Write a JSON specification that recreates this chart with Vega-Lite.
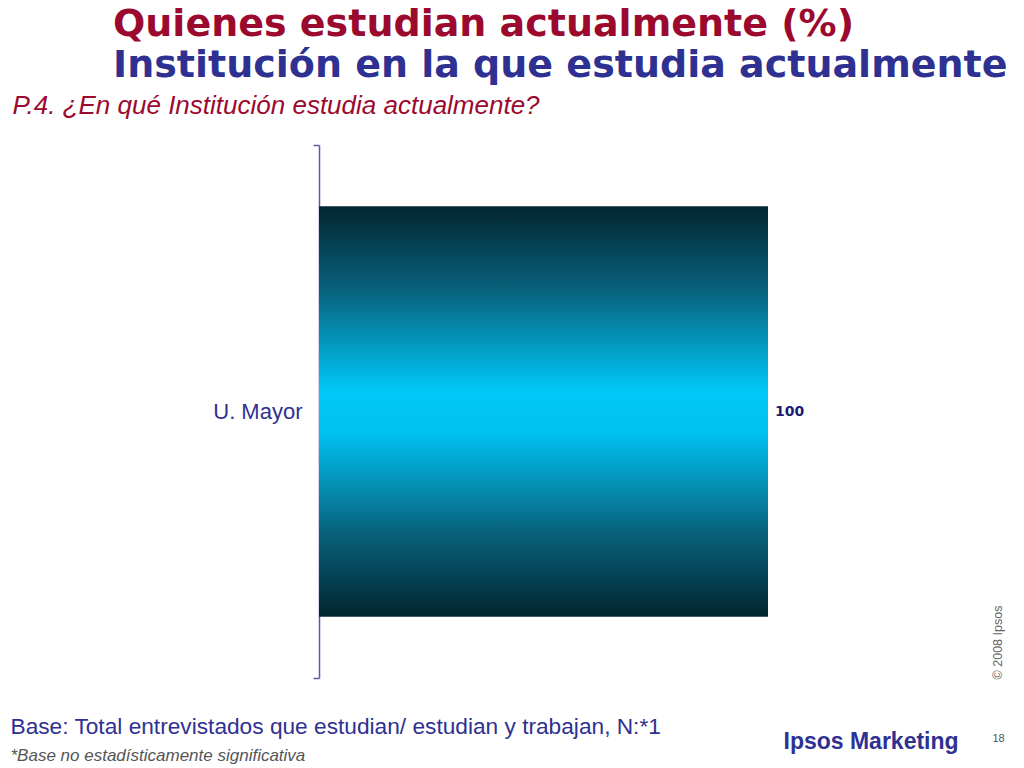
{
  "$schema": "https://vega.github.io/schema/vega-lite/v6.json",
  "autosize": {"type": "none"},
  "width": 449,
  "height": 533,
  "padding": {"left": 319, "top": 145, "right": 256, "bottom": 90},
  "background": "white",
  "config": {"view": {"stroke": null}, "font": "Liberation Sans"},
  "title": {
    "text": "Quienes estudian actualmente (%)",
    "subtitle": "Institución en la que estudia actualmente",
    "anchor": "start",
    "frame": "group",
    "dx": -206,
    "offset": 7,
    "font": "DejaVu Sans",
    "fontSize": 38,
    "fontWeight": "bold",
    "color": "#9B0A2E",
    "subtitleFont": "DejaVu Sans",
    "subtitleFontSize": 38,
    "subtitleFontWeight": "bold",
    "subtitleColor": "#2E3192",
    "subtitlePadding": 3
  },
  "data": {"values": [{"institucion": "U. Mayor", "pct": 100}]},
  "layer": [
    {
      "mark": {
        "type": "bar",
        "height": {"band": 0.77},
        "fill": {
          "gradient": "linear",
          "x1": 0, "y1": 0, "x2": 0, "y2": 1,
          "stops": [
            {"offset": 0, "color": "#022630"},
            {"offset": 0.2, "color": "#08607a"},
            {"offset": 0.45, "color": "#00c8f8"},
            {"offset": 0.55, "color": "#00c2f2"},
            {"offset": 0.8, "color": "#08607a"},
            {"offset": 1, "color": "#022630"}
          ]
        }
      },
      "encoding": {
        "y": {
          "field": "institucion", "type": "nominal",
          "scale": {"paddingInner": 0, "paddingOuter": 0},
          "axis": {
            "orient": "left",
            "title": "P.4.  ¿En qué Institución estudia actualmente?",
            "titleAngle": 0, "titleAlign": "left", "titleBaseline": "alphabetic",
            "titleX": -307, "titleY": -32,
            "titleFont": "Liberation Sans", "titleFontStyle": "italic", "titleFontWeight": "normal",
            "titleFontSize": 26, "titleColor": "#9B0A2E",
            "labelFont": "Liberation Sans", "labelFontSize": 22, "labelColor": "#2E3192", "labelPadding": 11,
            "tickBand": "extent", "tickSize": 6, "tickColor": "#5a5aa8", "tickWidth": 1.5,
            "domainColor": "#5a5aa8", "domainWidth": 1.5
          }
        },
        "x": {
          "field": "pct", "type": "quantitative",
          "scale": {"domain": [0, 100], "nice": false},
          "axis": {
            "orient": "bottom",
            "domain": false, "ticks": false, "labels": false, "grid": false,
            "title": "Base: Total entrevistados que estudian/ estudian y trabajan, N:*1",
            "titleAlign": "left", "titleBaseline": "alphabetic",
            "titleX": -309, "titleY": 55,
            "titleFont": "Liberation Sans", "titleFontWeight": "normal", "titleFontSize": 22.7, "titleColor": "#2E3192"
          }
        }
      }
    },
    {
      "mark": {"type": "text", "align": "left", "baseline": "middle", "dx": 7, "font": "DejaVu Sans", "fontWeight": "bold", "fontSize": 14, "color": "#1B1B7A"},
      "encoding": {
        "y": {
          "field": "institucion", "type": "nominal",
          "axis": {
            "orient": "right", "domain": false, "ticks": false, "labels": false, "grid": false,
            "title": "© 2008 Ipsos",
            "titleAngle": 270, "titleAlign": "center", "titleBaseline": "middle",
            "titleX": 229, "titleY": 497,
            "titleFont": "Liberation Sans", "titleFontWeight": "normal", "titleFontSize": 12.5, "titleColor": "#666666"
          }
        },
        "x": {
          "field": "pct", "type": "quantitative",
          "axis": {
            "orient": "top", "domain": false, "ticks": false, "labels": false, "grid": false,
            "title": "*Base no estadísticamente significativa",
            "titleAlign": "left", "titleBaseline": "alphabetic",
            "titleX": -309, "titleY": 615,
            "titleFont": "Liberation Sans", "titleFontStyle": "italic", "titleFontWeight": "normal", "titleFontSize": 17, "titleColor": "#555555"
          }
        },
        "text": {"field": "pct", "type": "quantitative"}
      }
    },
    {
      "mark": {"type": "text", "opacity": 0},
      "encoding": {
        "y": {
          "field": "institucion", "type": "nominal",
          "axis": {
            "orient": "right", "domain": false, "ticks": false, "labels": false, "grid": false,
            "title": "18",
            "titleAngle": 0, "titleAlign": "center", "titleBaseline": "middle",
            "titleX": 230, "titleY": 593,
            "titleFont": "Liberation Sans", "titleFontWeight": "normal", "titleFontSize": 11, "titleColor": "#555555"
          }
        },
        "x": {
          "field": "pct", "type": "quantitative",
          "axis": {
            "orient": "bottom", "domain": false, "ticks": false, "labels": false, "grid": false,
            "title": "Ipsos Marketing",
            "titleAlign": "left", "titleBaseline": "alphabetic",
            "titleX": 464, "titleY": 70,
            "titleFont": "Liberation Sans", "titleFontWeight": "bold", "titleFontSize": 23, "titleColor": "#2E3192"
          }
        },
        "text": {"field": "pct", "type": "quantitative"}
      }
    }
  ],
  "resolve": {"axis": {"x": "independent", "y": "independent"}}
}
